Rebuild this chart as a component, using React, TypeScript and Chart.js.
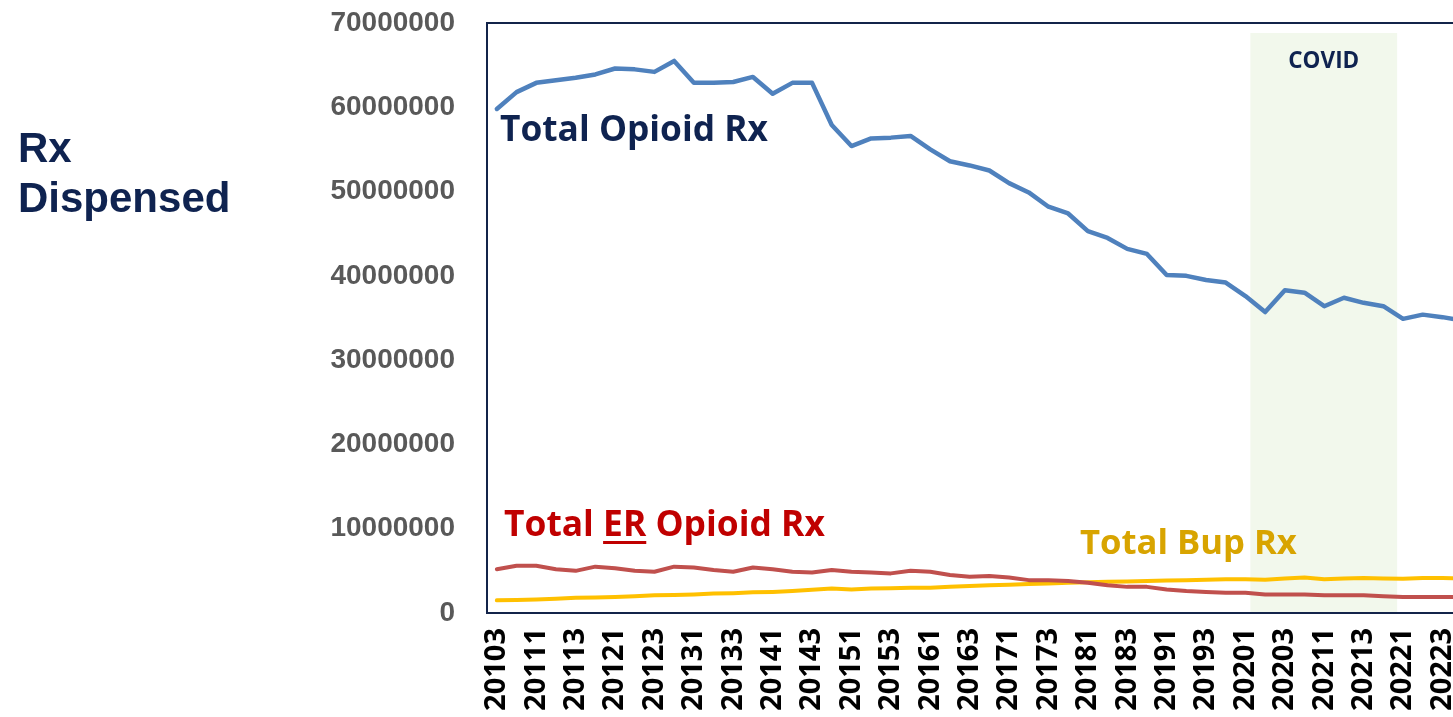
import React, { useEffect, useRef } from 'react';
import { Chart, registerables } from 'chart.js';

Chart.register(...registerables);

const quarters = [
  '20103', '20104', '20111', '20112', '20113', '20114', '20121', '20122', '20123', '20124',
  '20131', '20132', '20133', '20134', '20141', '20142', '20143', '20144', '20151', '20152',
  '20153', '20154', '20161', '20162', '20163', '20164', '20171', '20172', '20173', '20174',
  '20181', '20182', '20183', '20184', '20191', '20192', '20193', '20194', '20201', '20202',
  '20203', '20204', '20211', '20212', '20213', '20214', '20221', '20222', '20223', '20224',
];

const totalOpioidRx = [
  59800000, 61800000, 62900000, 63200000, 63500000, 63900000, 64600000, 64500000, 64200000, 65500000,
  62900000, 62900000, 63000000, 63600000, 61600000, 62900000, 62900000, 57900000, 55400000, 56300000,
  56400000, 56600000, 55000000, 53600000, 53100000, 52500000, 51000000, 49900000, 48200000, 47400000,
  45300000, 44500000, 43200000, 42600000, 40100000, 40000000, 39500000, 39200000, 37600000, 35700000,
  38300000, 38000000, 36400000, 37400000, 36800000, 36400000, 34900000, 35400000, 35100000, 34700000,
];

const totalErOpioidRx = [
  5200000, 5600000, 5600000, 5200000, 5000000, 5500000, 5300000, 5000000, 4900000, 5500000,
  5400000, 5100000, 4900000, 5400000, 5200000, 4900000, 4800000, 5100000, 4900000, 4800000,
  4700000, 5000000, 4900000, 4500000, 4300000, 4400000, 4200000, 3900000, 3900000, 3800000,
  3600000, 3300000, 3100000, 3100000, 2800000, 2600000, 2500000, 2400000, 2400000, 2200000,
  2200000, 2200000, 2100000, 2100000, 2100000, 2000000, 1900000, 1900000, 1900000, 1900000,
];

const totalBupRx = [
  1500000, 1550000, 1600000, 1700000, 1800000, 1850000, 1900000, 2000000, 2100000, 2150000,
  2200000, 2300000, 2350000, 2450000, 2500000, 2600000, 2750000, 2900000, 2800000, 2900000,
  2950000, 3000000, 3000000, 3100000, 3200000, 3300000, 3350000, 3450000, 3500000, 3600000,
  3650000, 3700000, 3750000, 3800000, 3850000, 3900000, 3950000, 4000000, 4000000, 3950000,
  4100000, 4200000, 4000000, 4100000, 4150000, 4100000, 4050000, 4150000, 4150000, 4100000,
];

const yTicks = [0, 10000000, 20000000, 30000000, 40000000, 50000000, 60000000, 70000000];

const covidStartQuarter = '20201';
const covidEndQuarter = '20214';

const NAVY = '#0F2350';
const RED_TEXT = '#C00000';
const GOLD_TEXT = '#D8A400';
const CALIBRI_LIKE = 'Open Sans';

function fitSize(ctx: CanvasRenderingContext2D, text: string, family: string, targetWidth: number) {
  ctx.font = `bold 100px "${family}"`;
  const w = ctx.measureText(text).width;
  return (100 * targetWidth) / w;
}

const annotationPlugin = {
  id: 'rxAnnotations',
  beforeDatasetsDraw(chart: any) {
    const { ctx, chartArea, scales } = chart;
    const x = scales.x;
    const i0 = quarters.indexOf(covidStartQuarter);
    const i1 = quarters.indexOf(covidEndQuarter);
    const left = x.getPixelForValue(i0 + 0.25);
    const right = x.getPixelForValue(i1 + 0.7);
    const top = chartArea.top + 10;
    ctx.save();
    ctx.fillStyle = '#F2F8EC';
    ctx.fillRect(left, top, right - left, chartArea.bottom - top);
    const size = fitSize(ctx, 'COVID', CALIBRI_LIKE, 71);
    ctx.font = `bold ${size}px "${CALIBRI_LIKE}"`;
    ctx.fillStyle = NAVY;
    ctx.textAlign = 'center';
    ctx.textBaseline = 'alphabetic';
    ctx.fillText('COVID', (left + right) / 2, 68);
    ctx.restore();
  },
  afterDraw(chart: any) {
    const { ctx, chartArea } = chart;
    ctx.save();
    // plot frame
    ctx.strokeStyle = '#13244A';
    ctx.lineWidth = 2;
    ctx.strokeRect(chartArea.left, chartArea.top, chartArea.right - chartArea.left, chartArea.bottom - chartArea.top);

    ctx.textAlign = 'left';
    ctx.textBaseline = 'alphabetic';

    // y-axis title
    ctx.fillStyle = NAVY;
    ctx.font = 'bold 42px "Liberation Sans"';
    ctx.fillText('Rx', 18, 162);
    ctx.fillText('Dispensed', 18, 212);

    // Total Opioid Rx
    let s = fitSize(ctx, 'Total Opioid Rx', CALIBRI_LIKE, 268);
    ctx.font = `bold ${s}px "${CALIBRI_LIKE}"`;
    ctx.fillStyle = NAVY;
    ctx.fillText('Total Opioid Rx', 500, 141);

    // Total ER Opioid Rx
    s = fitSize(ctx, 'Total ER Opioid Rx', CALIBRI_LIKE, 321);
    ctx.font = `bold ${s}px "${CALIBRI_LIKE}"`;
    ctx.fillStyle = RED_TEXT;
    const erX = 504;
    const erY = 536;
    ctx.fillText('Total ER Opioid Rx', erX, erY);
    const pre = ctx.measureText('Total ').width;
    const erW = ctx.measureText('ER').width;
    ctx.fillRect(erX + pre, erY + 5, erW, 3);

    // Total Bup Rx
    s = fitSize(ctx, 'Total Bup Rx', CALIBRI_LIKE, 217);
    ctx.font = `bold ${s}px "${CALIBRI_LIKE}"`;
    ctx.fillStyle = GOLD_TEXT;
    ctx.fillText('Total Bup Rx', 1080, 554);
    ctx.restore();
  },
};

export default function App() {
  const canvasRef = useRef<HTMLCanvasElement | null>(null);

  useEffect(() => {
    if (!canvasRef.current) return;
    const chart = new Chart(canvasRef.current, {
      type: 'line',
      data: {
        labels: quarters,
        datasets: [
          {
            label: 'Total Opioid Rx',
            data: totalOpioidRx,
            borderColor: '#4F81BD',
            borderWidth: 4.5,
            pointRadius: 0,
            tension: 0,
            borderJoinStyle: 'round',
            borderCapStyle: 'round',
          },
          {
            label: 'Total ER Opioid Rx',
            data: totalErOpioidRx,
            borderColor: '#C0504D',
            borderWidth: 4,
            pointRadius: 0,
            tension: 0,
            borderJoinStyle: 'round',
            borderCapStyle: 'round',
          },
          {
            label: 'Total Bup Rx',
            data: totalBupRx,
            borderColor: '#FFC000',
            borderWidth: 4,
            pointRadius: 0,
            tension: 0,
            borderJoinStyle: 'round',
            borderCapStyle: 'round',
          },
        ],
      },
      options: {
        animation: false,
        responsive: false,
        devicePixelRatio: 1,
        layout: { padding: { top: 23, left: 0, right: 0, bottom: 0 } },
        plugins: {
          legend: { display: false },
          tooltip: { enabled: false },
        },
        scales: {
          x: {
            type: 'category',
            offset: true,
            grid: { display: false, drawTicks: false },
            border: { display: true, color: '#13244A', width: 2 },
            ticks: {
              autoSkip: false,
              maxRotation: 90,
              minRotation: 90,
              padding: 15,
              color: '#000000',
              font: { family: CALIBRI_LIKE, weight: 'bold', size: 29 },
              callback: (_v: any, i: number) => (i % 2 === 0 ? quarters[i] : ''),
            },
            afterFit: (scale: any) => {
              scale.height = 104;
              scale.paddingLeft = 0;
              scale.paddingRight = 0;
            },
          },
          y: {
            min: 0,
            max: 70000000,
            grid: { display: false, drawTicks: false },
            border: { display: true, color: '#13244A', width: 2 },
            ticks: {
              padding: 32,
              color: '#595959',
              font: { family: 'Liberation Sans', weight: 'bold', size: 28 },
              callback: (v: any) => String(v),
            },
            afterBuildTicks: (scale: any) => {
              scale.ticks = yTicks.map((v) => ({ value: v }));
            },
            afterFit: (scale: any) => {
              scale.width = 487;
              scale.paddingTop = 0;
              scale.paddingBottom = 0;
            },
          },
        },
      },
      plugins: [annotationPlugin],
    });
    return () => chart.destroy();
  }, []);

  return (
    <div
      style={{
        position: 'fixed',
        left: 0,
        top: 0,
        width: 1453,
        height: 717,
        overflow: 'hidden',
        background: '#ffffff',
      }}
    >
      <canvas ref={canvasRef} width={1472} height={717} style={{ display: 'block' }} />
    </div>
  );
}
